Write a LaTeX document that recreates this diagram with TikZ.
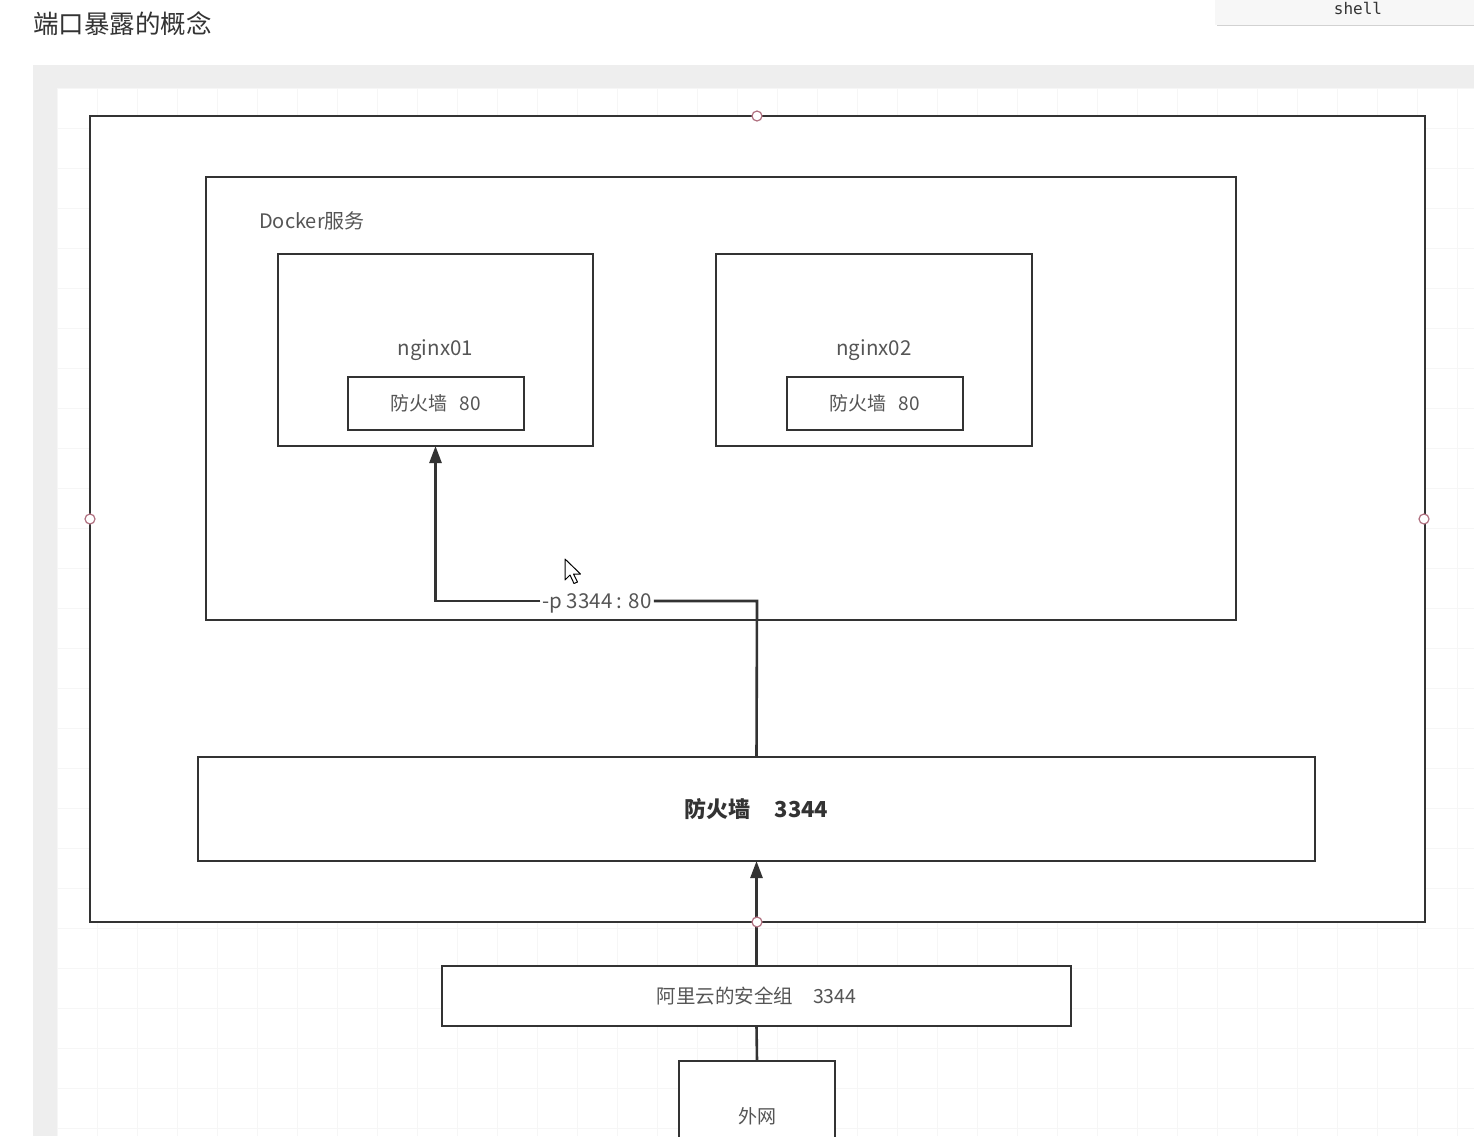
\documentclass[tikz,border=0pt]{standalone}
\usepackage{fontspec}
\setmainfont{Noto Sans CJK SC}
\newfontfamily\monof{DejaVu Sans Mono}
\usetikzlibrary{arrows.meta}
\definecolor{lineC}{HTML}{333333}
\definecolor{txtC}{HTML}{555555}
\definecolor{panelC}{HTML}{EEEEEE}
\definecolor{gridC}{HTML}{F6F6F6}
\definecolor{dotC}{HTML}{B07080}
\tikzset{
  box/.style={draw=lineC, line width=2.6pt, fill=white, inner sep=0pt, outer sep=0pt, text=txtC},
  lbl/.style={inner sep=1pt, text=txtC},
  conn/.style={draw=lineC, line width=2.6pt},
  arr/.style={conn, -{Triangle[width=12pt,length=17pt]}},
  handle/.style={circle, draw=dotC, fill=white, line width=1.2pt, minimum size=10pt, inner sep=0pt}
}
\begin{document}
\begin{tikzpicture}[x=1pt,y=-1pt]
\useasboundingbox (0,0) rectangle (1474,1136);
\clip (0,0) rectangle (1474,1136);
\fill[white] (0,0) rectangle (1474,1136);
% panel and canvas
\fill[panelC] (33,65) rectangle (1474,1136);
\fill[white] (57,88) rectangle (1474,1136);
\foreach \gx in {57,97,...,1474} \draw[gridC, line width=0.8pt] (\gx,88) -- (\gx,1136);
\foreach \gy in {88,128,...,1136} \draw[gridC, line width=0.8pt] (57,\gy) -- (1474,\gy);
% title and tab
\node[anchor=west, text=lineC, font=\fontsize{25.5}{30}\selectfont, inner sep=0pt] (title) at (33,24) {端口暴露的概念};
\fill[gray!6] (1215,-2) rectangle (1474,25);
\draw[gray!35, line width=1.5pt] (1217,25.5) -- (1474,25.5);
\node[text=lineC, font=\monof\fontsize{16}{19}\selectfont, inner sep=0pt] (shell) at (1358,8) {shell};
% outer frame
\node[box, minimum width=1335pt, minimum height=806pt] (outer) at (757.5,519) {};
% docker box
\node[box, minimum width=1030pt, minimum height=443pt] (docker) at (721,398.5) {};
\node[lbl, font=\fontsize{20}{24}\selectfont] (dlabel) at (312,221) {Docker服务};
% nginx boxes
\node[box, minimum width=315pt, minimum height=192pt, font=\fontsize{20.5}{24}\selectfont] (n01) at (435.5,350) {nginx01};
\node[box, minimum width=176pt, minimum height=53pt, font=\fontsize{19}{22}\selectfont] (n01fw) at (436,403.5) {防火墙\hspace{12pt}80};
\node[box, minimum width=316pt, minimum height=192pt, font=\fontsize{20.5}{24}\selectfont] (n02) at (874,350) {nginx02};
\node[box, minimum width=176pt, minimum height=53pt, font=\fontsize{19}{22}\selectfont] (n02fw) at (875,403.5) {防火墙\hspace{12pt}80};
% firewall 3344
\node[box, minimum width=1117pt, minimum height=104pt, text=lineC, font=\bfseries\fontsize{22}{26}\selectfont] (fw) at (756.5,809) {防火墙\hspace{24pt}3344};
% aliyun
\node[box, minimum width=629pt, minimum height=60pt, font=\fontsize{19.5}{22}\selectfont] (ali) at (756.5,996) {阿里云的安全组\hspace{20pt}3344};
% waiwang
\node[box, minimum width=156pt, minimum height=110pt, font=\fontsize{19}{22}\selectfont] (ww) at (757,1116) {外网};
% connectors
\node[lbl, fill=white, font=\fontsize{20.5}{24}\selectfont, inner sep=2pt] (plabel) at (597,603) {-p 3344 : 80};
\coordinate (corner) at (757,601);
\draw[conn] (fw.north) -- (corner) -- (plabel.east |- corner);
\draw[arr] (plabel.west |- corner) -| (n01.south);
\draw[arr] (ali.north) -- (fw.south);
\draw[conn] (ww.north) -- (ali.south);
% selection handles
\node[handle] (h1) at (757,116) {};
\node[handle] (h2) at (90,519) {};
\node[handle] (h3) at (1424,519) {};
\node[handle] (h4) at (757,922) {};
% mouse cursor
\draw[black, fill=white, line width=1pt, line join=round] (565,559) -- (565,580) -- (570,575) -- (574,583.5) -- (577.5,582) -- (573.5,574) -- (580.5,574) -- cycle;
\end{tikzpicture}
\end{document}
